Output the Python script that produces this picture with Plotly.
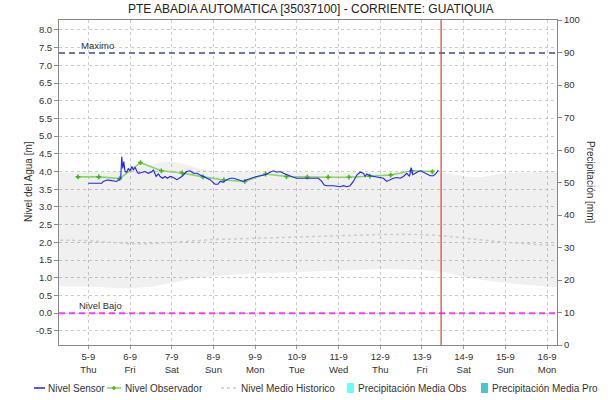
import pandas as pd
import plotly.graph_objects as go

# ---------------------------------------------------------------- data
chart_title = "PTE ABADIA AUTOMATICA [35037100] - CORRIENTE: GUATIQUIA"
start = pd.Timestamp("2019-09-05 00:00")

# sensor level (hours after 5-9 00:00, metres)
sensor_hours = [0, 7.7, 8.6, 10.8, 12.5, 14.2, 16.3, 17.8, 18.6, 19.2, 19.8, 20.4,
                21.1, 22.1, 23.0, 24.0, 25.0, 25.9, 26.9, 27.9, 28.8, 30.7, 32.6,
                34.5, 36.5, 37.4, 39.0, 40.3, 41.3, 42.8, 44.1, 45.5, 47.0, 48.9,
                50.9, 53.8, 56.6, 58.5, 60.4, 62.4, 64.3, 66.2, 68.1, 70.0, 71.6,
                72.9, 74.6, 75.8, 77.7, 79.7, 81.6, 83.5, 85.4, 87.4, 89.2, 91.2,
                93.1, 95.0, 96.9, 98.8, 101.7, 104.6, 106.5, 108.4, 110.3, 112.2,
                114.2, 116.1, 118.0, 119.9, 121.8, 123.7, 125.7, 127.6, 129.5,
                132.4, 134.3, 135.7, 137.2, 141.0, 144.9, 146.8, 148.7, 150.6,
                152.5, 154.5, 156.4, 158.3, 159.3, 160.2, 162.1, 164.0, 166.0,
                167.9, 169.8, 171.7, 173.6, 175.5, 177.5, 179.4, 181.3, 183.3,
                184.8, 185.7, 186.7, 188.0, 189.9, 191.3, 192.8, 194.8, 196.7,
                198.6, 200.1, 201.4]
sensor_level = [3.67, 3.67, 3.72, 3.76, 3.75, 3.74, 3.72, 3.78, 3.81, 4.42, 4.09, 4.28,
                4.00, 3.98, 4.09, 4.02, 4.14, 4.05, 4.12, 4.00, 3.95, 3.97, 4.00,
                3.95, 3.99, 4.05, 3.86, 3.93, 3.86, 3.81, 3.86, 3.81, 3.86, 3.83,
                3.77, 3.86, 4.00, 4.02, 3.95, 3.95, 3.91, 3.86, 3.81, 3.77, 3.70,
                3.64, 3.64, 3.72, 3.70, 3.77, 3.81, 3.81, 3.78, 3.74, 3.72, 3.77,
                3.81, 3.83, 3.86, 3.88, 3.91, 3.98, 4.02, 3.98, 4.00, 3.95,
                3.91, 3.86, 3.84, 3.81, 3.81, 3.79, 3.81, 3.79, 3.81,
                3.81, 3.72, 3.62, 3.60, 3.60, 3.57, 3.60, 3.57, 3.60,
                3.72, 3.90, 3.98, 3.95, 3.86, 3.93, 3.88, 3.86, 3.86,
                3.83, 3.81, 3.72, 3.77, 3.81, 3.83, 3.81, 3.86, 3.95,
                3.86, 4.11, 3.91, 3.95, 4.00, 4.02, 3.98, 3.93, 3.88,
                3.88, 3.95, 4.04]

# observer readings, 06:00 and 18:00
obs_hours = [-6, 6, 18, 30, 42, 54, 66, 78, 90, 102, 114, 126, 138, 150, 162,
             174, 186, 198]
obs_level = [3.85, 3.85, 3.80, 4.25, 4.02, 3.96, 3.85, 3.76, 3.72, 3.93, 3.86,
             3.84, 3.84, 3.84, 3.87, 3.90, 4.02, 4.00]

# historical range and mean level
hist_hours = [-30, -17, 0, 12, 24, 36, 44, 48, 58, 64, 72, 96, 120, 144, 168, 192,
              206, 216, 225, 240, 264, 280]
hist_upper = [3.96, 3.96, 3.97, 3.98, 4.05, 4.20, 4.28, 4.28, 4.18, 4.08, 4.00,
              3.98, 3.98, 3.97, 3.98, 3.97, 3.95, 3.87, 3.84, 3.95, 4.00, 4.02]
hist_lower = [0.75, 0.75, 0.75, 0.72, 0.70, 0.74, 0.80, 0.85, 0.95, 1.00, 1.05,
              1.12, 1.15, 1.20, 1.25, 1.22, 1.15, 1.02, 0.95, 0.85, 0.75, 0.70]
hist_mean = [2.07, 2.07, 2.05, 2.00, 1.96, 1.96, 1.98, 2.00, 2.03, 2.05, 2.08,
             2.12, 2.15, 2.18, 2.22, 2.22, 2.18, 2.12, 2.08, 2.00, 1.92, 1.90]

# precipitation (no records in this window)
precip_obs_hours, precip_obs = [], []
precip_pro_hours, precip_pro = [], []

nivel_maximo = 7.35
nivel_bajo = 0.0
now_hours = 203

day_labels = ["5-9<br>Thu", "6-9<br>Fri", "7-9<br>Sat", "8-9<br>Sun", "9-9<br>Mon",
              "10-9<br>Tue", "11-9<br>Wed", "12-9<br>Thu", "13-9<br>Fri",
              "14-9<br>Sat", "15-9<br>Sun", "16-9<br>Mon"]
level_ticks = [-0.5, 0, 0.5, 1, 1.5, 2, 2.5, 3, 3.5, 4, 4.5, 5, 5.5, 6, 6.5, 7, 7.5, 8]
precip_ticks = [0, 10, 20, 30, 40, 50, 60, 70, 80, 90, 100]

# ---------------------------------------------------------------- helpers
def at(hours):
    return [start + pd.Timedelta(hours=h) for h in hours]

W, H = 615, 400
ML, MR, MT, MB = 59, 58, 20, 55
PW, PH = W - ML - MR, H - MT - MB


def px(x):
    return (x - ML) / PW


def py(y):
    return (H - MB - y) / PH


FONT = "Liberation Sans, Arial, sans-serif"
TXT = "#333333"
SENSOR = "#2222ff"
OBS_LINE = "#8ad662"
OBS_MARK = "#49b421"
MEAN = "#cccccc"
CYAN = "#66ffff"
TEAL = "#44c8c8"

fig = go.Figure()

# historical band
fig.add_trace(go.Scatter(x=at(hist_hours), y=hist_upper, mode="lines",
                         line=dict(width=0), hoverinfo="skip", showlegend=False))
fig.add_trace(go.Scatter(x=at(hist_hours), y=hist_lower, mode="lines",
                         line=dict(width=0), fill="tonexty",
                         fillcolor="rgba(0,0,0,0.06)", hoverinfo="skip",
                         showlegend=False))
fig.add_trace(go.Scatter(x=at(hist_hours), y=hist_mean, mode="lines",
                         line=dict(color=MEAN, width=1.5, dash="dot"),
                         name="Nivel Medio Historico", showlegend=False))

# precipitation bars on the right axis
fig.add_trace(go.Bar(x=at(precip_obs_hours), y=precip_obs, yaxis="y2",
                     marker_color=CYAN, name="Precipitación Media Obs",
                     showlegend=False))
fig.add_trace(go.Bar(x=at(precip_pro_hours), y=precip_pro, yaxis="y2",
                     marker_color=TEAL, name="Precipitación Media Pro",
                     showlegend=False))

# observer and sensor levels
fig.add_trace(go.Scatter(x=at(obs_hours), y=obs_level, mode="lines+markers",
                         line=dict(color=OBS_LINE, width=1.6),
                         marker=dict(symbol="cross", size=4, color=OBS_MARK),
                         name="Nivel Observador", showlegend=False))
fig.add_trace(go.Scatter(x=at(sensor_hours), y=sensor_level, mode="lines",
                         line=dict(color=SENSOR, width=1.1),
                         name="Nivel Sensor", showlegend=False))

shapes = []
annotations = []

# reference levels
shapes.append(dict(type="line", xref="paper", x0=0, x1=1, yref="y",
                   y0=nivel_maximo, y1=nivel_maximo,
                   line=dict(color="#6d7ba0", width=2, dash="6px,4px")))
shapes.append(dict(type="line", xref="paper", x0=0, x1=1, yref="y",
                   y0=nivel_bajo, y1=nivel_bajo,
                   line=dict(color="#ff3cff", width=2, dash="6px,4px")))
annotations.append(dict(text="Maximo", xref="paper", yref="y", x=px(79),
                        y=nivel_maximo, xanchor="left", yanchor="bottom",
                        showarrow=False, font=dict(size=9.5, color=TXT)))
annotations.append(dict(text="Nivel Bajo", xref="paper", yref="y", x=px(77),
                        y=nivel_bajo, xanchor="left", yanchor="bottom",
                        showarrow=False, font=dict(size=9.5, color=TXT)))

# current time marker
now = start + pd.Timedelta(hours=now_hours)
shapes.append(dict(type="line", xref="x", x0=now, x1=now, yref="paper", y0=0,
                   y1=1, line=dict(color="#e03a3a", width=1.2)))

# titles
annotations.append(dict(text=chart_title, xref="paper", yref="paper",
                        x=px(310), y=py(9), xanchor="center", yanchor="middle",
                        showarrow=False, font=dict(size=12, color="#222222")))
annotations.append(dict(text="Nivel del Agua [m]", xref="paper", yref="paper",
                        x=px(28), y=py(182), textangle=-90, xanchor="center",
                        yanchor="middle", showarrow=False,
                        font=dict(size=10, color=TXT)))
annotations.append(dict(text="Precipitación [mm]", xref="paper", yref="paper",
                        x=px(591), y=py(182), textangle=90, xanchor="center",
                        yanchor="middle", showarrow=False,
                        font=dict(size=10, color=TXT)))

# legend row
LY = py(388)
def leg_text(x, s):
    annotations.append(dict(text=s, xref="paper", yref="paper", x=px(x), y=LY,
                            xanchor="left", yanchor="middle", showarrow=False,
                            font=dict(size=10, color=TXT)))

def leg_line(x0, x1, color, width, dash="solid"):
    shapes.append(dict(type="line", xref="paper", yref="paper", x0=px(x0),
                       x1=px(x1), y0=LY, y1=LY,
                       line=dict(color=color, width=width, dash=dash)))

def leg_box(x0, color):
    shapes.append(dict(type="rect", xref="paper", yref="paper", x0=px(x0),
                       x1=px(x0 + 7), y0=py(393), y1=py(383),
                       fillcolor=color, line=dict(width=0)))

leg_line(34, 45, SENSOR, 1.5)
leg_text(46, "Nivel Sensor")
leg_line(107, 121, OBS_LINE, 1.6)
shapes.append(dict(type="line", xref="paper", yref="paper", x0=px(114),
                   x1=px(114), y0=py(386), y1=py(390),
                   line=dict(color=OBS_MARK, width=1.5)))
shapes.append(dict(type="line", xref="paper", yref="paper", x0=px(112),
                   x1=px(116), y0=LY, y1=LY, line=dict(color=OBS_MARK, width=1.5)))
leg_text(123, "Nivel Observador")
leg_line(221, 236, MEAN, 1.5, "3px,3px")
leg_text(239, "Nivel Medio Historico")
leg_box(347, CYAN)
leg_text(356, "Precipitación Media Obs")
leg_box(481, TEAL)
leg_text(490, "Precipitación Media Pro")

tick_font = dict(family=FONT, size=9.5, color=TXT)
grid = dict(showgrid=True, gridcolor="#cccccc", gridwidth=1, griddash="dot")

fig.update_layout(
    width=W, height=H,
    margin=dict(l=ML, r=MR, t=MT, b=MB, pad=0),
    paper_bgcolor="white", plot_bgcolor="white",
    font=dict(family=FONT, color=TXT),
    showlegend=False,
    bargap=0.2,
    xaxis=dict(type="date",
               range=[start + pd.Timedelta(hours=-16.9),
                      start + pd.Timedelta(hours=269.7)],
               tickvals=at([24 * i for i in range(len(day_labels))]),
               ticktext=day_labels, tickfont=tick_font,
               ticks="outside", ticklen=3, tickcolor="#999999",
               showline=True, linecolor="#888888", linewidth=1, mirror=True,
               zeroline=False, **grid),
    yaxis=dict(range=[-0.9, 8.28], tickvals=level_ticks,
               ticktext=[f"{v:.1f}" for v in level_ticks], tickfont=tick_font,
               ticks="outside", ticklen=4, tickcolor="#888888",
               showline=True, linecolor="#888888", linewidth=1,
               zeroline=False, **grid),
    yaxis2=dict(range=[0, 100], tickvals=precip_ticks, overlaying="y",
                side="right", tickfont=tick_font, ticks="outside", ticklen=4,
                tickcolor="#888888", showline=True, linecolor="#888888",
                linewidth=1, showgrid=False, zeroline=False),
    shapes=shapes,
    annotations=annotations,
)

fig.write_html("out.html")
